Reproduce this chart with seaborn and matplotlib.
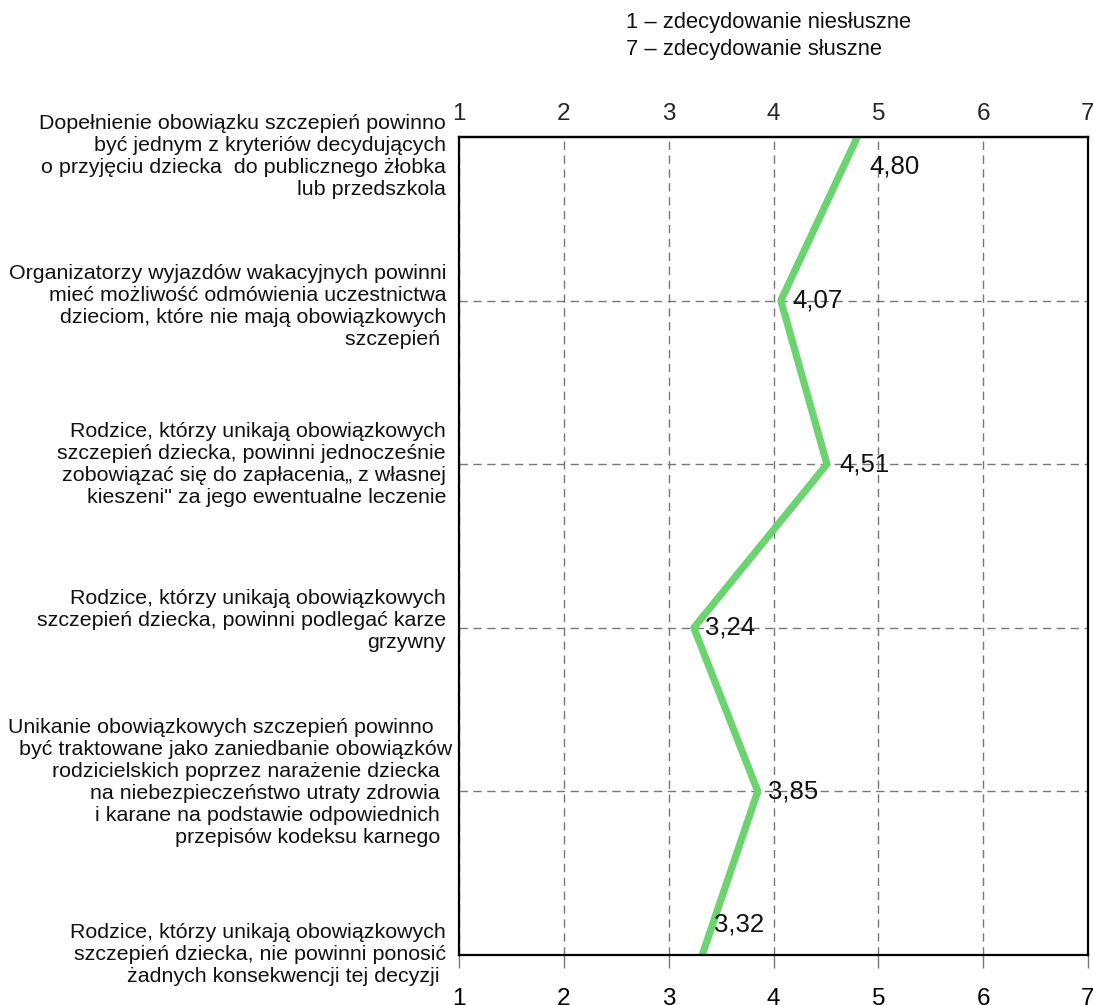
import numpy as np
import pandas as pd
import seaborn as sns
import matplotlib.pyplot as plt

statements = [
    "Dopełnienie obowiązku szczepień powinno\nbyć jednym z kryteriów decydujących\no przyjęciu dziecka  do publicznego żłobka\nlub przedszkola",
    "Organizatorzy wyjazdów wakacyjnych powinni\nmieć możliwość odmówienia uczestnictwa\ndzieciom, które nie mają obowiązkowych\nszczepień ",
    "Rodzice, którzy unikają obowiązkowych\nszczepień dziecka, powinni jednocześnie\nzobowiązać się do zapłacenia„ z własnej\nkieszeni\" za jego ewentualne leczenie",
    "Rodzice, którzy unikają obowiązkowych\nszczepień dziecka, powinni podlegać karze\ngrzywny",
    "Unikanie obowiązkowych szczepień powinno   \nbyć traktowane jako zaniedbanie obowiązków\nrodzicielskich poprzez narażenie dziecka  \nna niebezpieczeństwo utraty zdrowia  \ni karane na podstawie odpowiednich  \nprzepisów kodeksu karnego  ",
    "Rodzice, którzy unikają obowiązkowych\nszczepień dziecka, nie powinni ponosić\nżadnych konsekwencji tej decyzji ",
]
mean_scores = [4.80, 4.07, 4.51, 3.24, 3.85, 3.32]
scale_ticks = [1, 2, 3, 4, 5, 6, 7]
scale_note = "1 – zdecydowanie niesłuszne\n7 – zdecydowanie słuszne"

# pixel nudges for the text (layout only)
label_dx = [-13, -13, -13, -13, -7, -13]
label_dy = [-20, -6, 0, 7, 9, 0]
value_off = [(12, -30), (12, 0), (12, 0), (11, 0), (10, 0), (12, 30)]

df = pd.DataFrame({"score": mean_scores, "pos": np.arange(len(mean_scores))})

sns.set_theme(style="white")
plt.rcParams["font.family"] = ["Liberation Sans", "DejaVu Sans"]

fig = plt.figure(figsize=(10.93, 10.05), dpi=100)
ax = fig.add_axes([0.42, 0.0498, 0.5754, 0.8139])

sns.lineplot(data=df, x="score", y="pos", sort=False, color="#6bd36f",
             linewidth=5.2, solid_capstyle="round", ax=ax)

ax.set_xlim(1, 7)
ax.set_ylim(len(mean_scores) - 1, 0)
ax.set_xticks(scale_ticks)
ax.set_xticklabels([str(t) for t in scale_ticks], fontsize=17.5)
ax.set_yticks(range(1, len(mean_scores) - 1))
ax.set_yticklabels([])
ax.tick_params(axis="y", length=0)
ax.tick_params(axis="x", direction="out", length=9.5, width=1, color="#777777",
               pad=14, labelcolor="black", bottom=True)
ax.grid(True, color="#777777", linestyle=(0, (6, 4)), linewidth=1)
ax.set_xlabel("")
ax.set_ylabel("")
for s in ax.spines.values():
    s.set_color("black")
    s.set_linewidth(1.6)
    s.set_visible(True)

top = ax.secondary_xaxis("top")
top.set_xticks(scale_ticks)
top.set_xticklabels([str(t) for t in scale_ticks], fontsize=17.5)
top.tick_params(length=0, pad=8.5)
top.spines["top"].set_linewidth(1.6)

for i, txt in enumerate(statements):
    ax.annotate(txt, xy=(0, i), xycoords=("axes fraction", "data"),
                xytext=(label_dx[i], label_dy[i]), textcoords="offset pixels",
                ha="right", va="center", multialignment="right",
                fontsize=15.4, linespacing=1.2, color="#111111")

for i, v in enumerate(mean_scores):
    dx, dy = value_off[i]
    ax.annotate(f"{v:.2f}".replace(".", ","), xy=(v, i), xytext=(dx, dy),
                textcoords="offset pixels", ha="left", va="center",
                fontsize=18.5, color="#111111")

fig.text(0.573, 0.988, scale_note, ha="left", va="top", fontsize=15.8,
         linespacing=1.36, color="#111111")

fig.savefig("out.png", dpi=100)
